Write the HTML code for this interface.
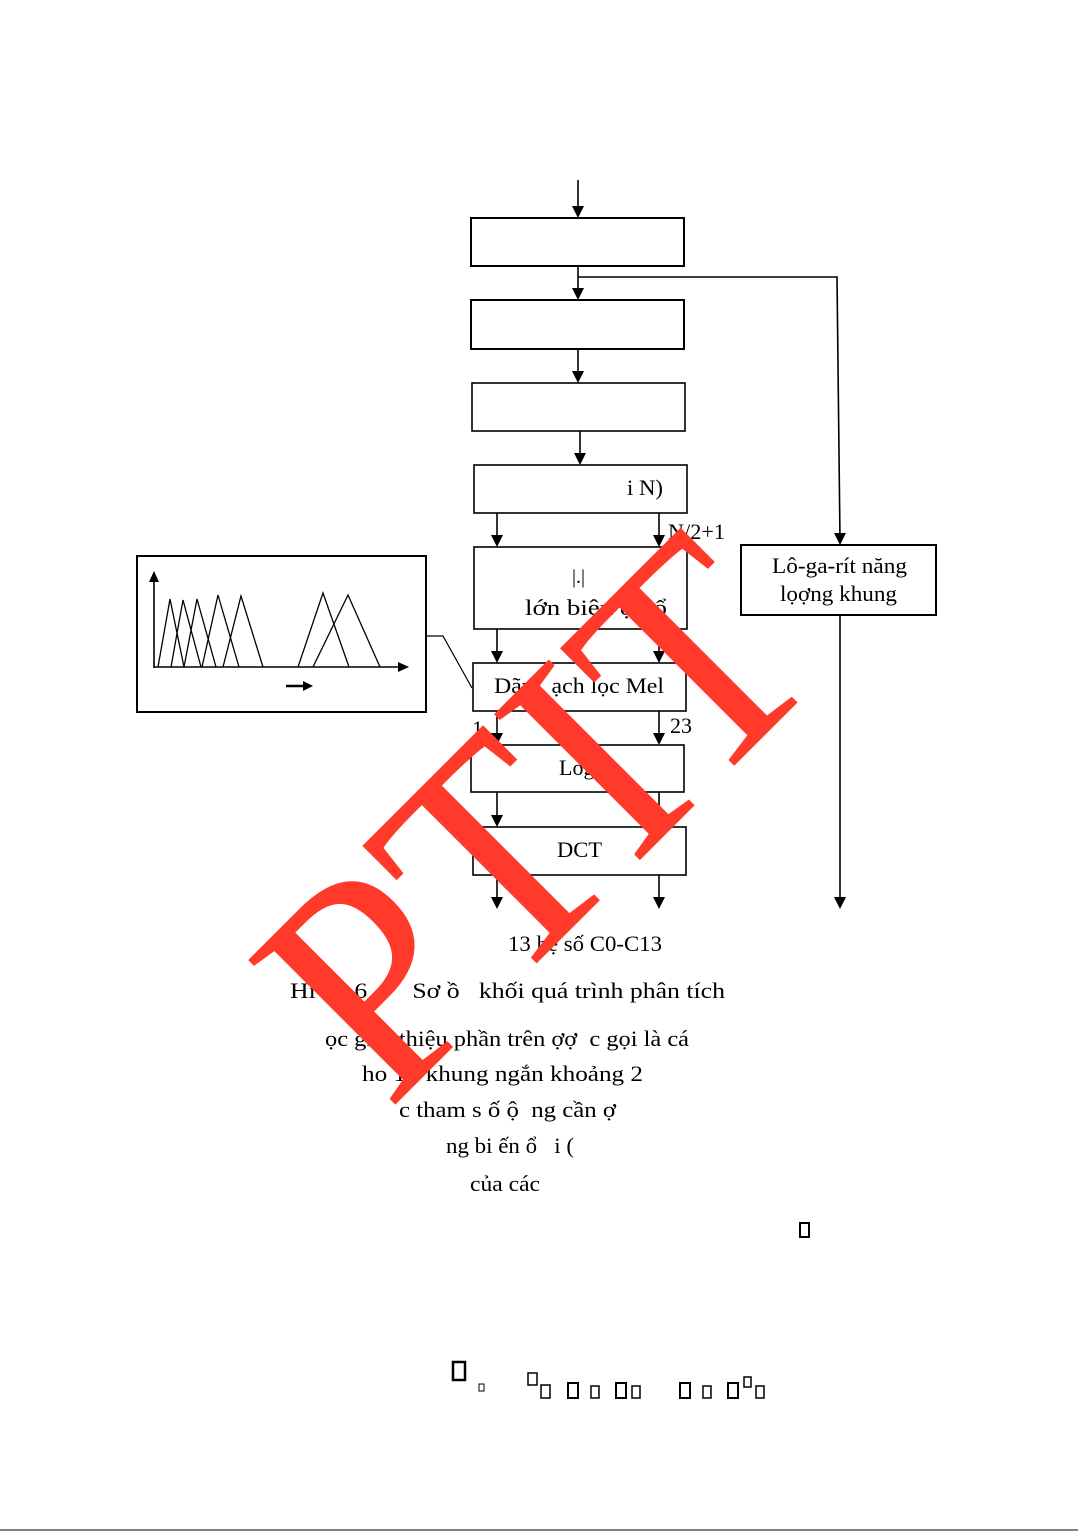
<!DOCTYPE html>
<html><head><meta charset="utf-8"><style>
html,body{margin:0;padding:0;background:#fff;}
svg{display:block}
text{font-family:"Liberation Serif",serif;fill:#000;white-space:pre}
</style></head><body>
<svg width="1078" height="1532" viewBox="0 0 1078 1532" xmlns="http://www.w3.org/2000/svg">
<g stroke="#000" stroke-width="1.6" fill="none">
<rect x="471" y="218" width="213" height="48" stroke-width="2"/>
<rect x="471" y="300" width="213" height="49" stroke-width="2"/>
<rect x="472" y="383" width="213" height="48"/>
<rect x="474" y="465" width="213" height="48"/>
<rect x="474" y="547" width="213" height="82"/>
<rect x="473" y="663" width="213" height="48"/>
<rect x="471" y="745" width="213" height="47"/>
<rect x="473" y="827" width="213" height="48"/>
<rect x="741" y="545" width="195" height="70" stroke-width="2"/>
<rect x="137" y="556" width="289" height="156" stroke-width="2"/>
<polyline points="426,636 443,636 472,688" stroke-width="1.2"/>
<polyline points="578,277 837,277 840,540"/>
<line x1="840" y1="615" x2="840" y2="905"/>
<line x1="578" y1="180" x2="578" y2="214"/>
<line x1="578" y1="266" x2="578" y2="296"/>
<line x1="578" y1="349" x2="578" y2="379"/>
<line x1="580" y1="431" x2="580" y2="461"/>
<line x1="497" y1="513" x2="497" y2="543"/><line x1="659" y1="513" x2="659" y2="543"/>
<line x1="497" y1="629" x2="497" y2="659"/><line x1="659" y1="629" x2="659" y2="659"/>
<line x1="497" y1="711" x2="497" y2="741"/><line x1="659" y1="711" x2="659" y2="741"/>
<line x1="497" y1="792" x2="497" y2="823"/><line x1="659" y1="792" x2="659" y2="823"/>
<line x1="497" y1="875" x2="497" y2="905"/><line x1="659" y1="875" x2="659" y2="905"/>
<line x1="154" y1="668" x2="154" y2="580"/>
<line x1="154" y1="667" x2="400" y2="667"/>
<g stroke-width="1.3">
<polyline points="158,667 170,599 184,667"/>
<polyline points="171,667 183,600 201,667"/>
<polyline points="184,667 197,599 216,667"/>
<polyline points="202,667 218,595 239,667"/>
<polyline points="223,667 241,596 263,667"/>
<polyline points="298,667 323,593 349,667"/>
<polyline points="313,667 348,595 380,667"/>
</g>
<line x1="286" y1="686" x2="305" y2="686" stroke-width="2.5"/>
</g>
<g fill="#000">
<path d="M572,206 L584,206 L578,218z"/><path d="M572,288 L584,288 L578,300z"/><path d="M572,371 L584,371 L578,383z"/><path d="M574,453 L586,453 L580,465z"/>
<path d="M491,535 L503,535 L497,547z"/><path d="M653,535 L665,535 L659,547z"/>
<path d="M491,651 L503,651 L497,663z"/><path d="M653,651 L665,651 L659,663z"/>
<path d="M491,733 L503,733 L497,745z"/><path d="M653,733 L665,733 L659,745z"/>
<path d="M491,815 L503,815 L497,827z"/><path d="M653,815 L665,815 L659,827z"/>
<path d="M491,897 L503,897 L497,909z"/><path d="M653,897 L665,897 L659,909z"/>
<path d="M834,533 L846,533 L840,545z"/><path d="M834,897 L846,897 L840,909z"/>
<path d="M149,582 L159,582 L154,571z"/><path d="M398,662 L398,672 L409,667z"/>
<path d="M303,681 L303,691 L313,686z"/>
</g>
<g font-size="22">
<text x="627" y="495" textLength="36" lengthAdjust="spacingAndGlyphs">i N)</text>
<text x="668" y="539" textLength="57" lengthAdjust="spacingAndGlyphs">N/2+1</text>
<text x="572" y="583" font-size="20">|.|</text>
<text x="525" y="615" textLength="142" lengthAdjust="spacingAndGlyphs">lớn biên ộ   ổ</text>
<text x="494" y="693" textLength="170" lengthAdjust="spacingAndGlyphs">Dãy   ạch lọc Mel</text>
<text x="472" y="736">1</text>
<text x="670" y="733">23</text>
<text x="559" y="775">Log</text>
<text x="557" y="857" textLength="45" lengthAdjust="spacingAndGlyphs">DCT</text>
<text x="772" y="573" textLength="135" lengthAdjust="spacingAndGlyphs">Lô-ga-rít năng</text>
<text x="780" y="601" textLength="117" lengthAdjust="spacingAndGlyphs">lọợng khung</text>
<text x="508" y="951" textLength="154" lengthAdjust="spacingAndGlyphs">13 hệ số C0-C13</text>
<text x="290" y="998" textLength="435" lengthAdjust="spacingAndGlyphs">Hì   5.6       Sơ ồ   khối quá trình phân tích</text>
<text x="325" y="1046" textLength="364" lengthAdjust="spacingAndGlyphs">ọc giới thiệu phần trên ợợ  c gọi là cá</text>
<text x="362" y="1081" textLength="281" lengthAdjust="spacingAndGlyphs">ho 1 t khung ngắn khoảng 2</text>
<text x="399" y="1117" textLength="217" lengthAdjust="spacingAndGlyphs">c tham s ố ộ  ng cần ợ</text>
<text x="446" y="1153" textLength="128" lengthAdjust="spacingAndGlyphs">ng bi ến ổ   i (</text>
<text x="470" y="1191" textLength="70" lengthAdjust="spacingAndGlyphs">của các</text>
</g>
<g fill="none" stroke="#000" stroke-width="2">
<rect x="800" y="1223" width="9" height="14"/>
<rect x="453" y="1362" width="12" height="18" stroke-width="2.5"/>
<rect x="479" y="1384" width="5" height="7" stroke-width="1"/>
<rect x="528" y="1373" width="9" height="12" stroke-width="1.5"/>
<rect x="541" y="1385" width="9" height="13" stroke-width="1.5"/>
<rect x="568" y="1383" width="10" height="15"/>
<rect x="591" y="1386" width="8" height="12" stroke-width="1.5"/>
<rect x="616" y="1383" width="10" height="15"/>
<rect x="632" y="1386" width="8" height="12" stroke-width="1.5"/>
<rect x="680" y="1383" width="10" height="15"/>
<rect x="703" y="1386" width="8" height="12" stroke-width="1.5"/>
<rect x="728" y="1383" width="10" height="15"/>
<rect x="744" y="1377" width="7" height="10" stroke-width="1.5"/>
<rect x="756" y="1386" width="8" height="12" stroke-width="1.5"/>
</g>
<line x1="0" y1="1530" x2="1078" y2="1530" stroke="#000" stroke-width="1"/>
<text x="0" y="0" font-size="315" style="fill:#ff3a2a" textLength="625" lengthAdjust="spacingAndGlyphs" transform="translate(388,1112) rotate(-45)">PTIT</text>
</svg>
</body></html>
